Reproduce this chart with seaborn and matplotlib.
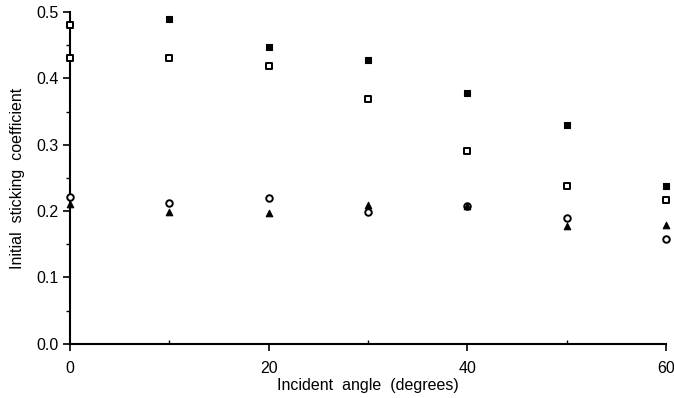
import numpy as np
import pandas as pd
import matplotlib
matplotlib.use("Agg")
import matplotlib.pyplot as plt
import seaborn as sns
from matplotlib.ticker import MultipleLocator, FormatStrFormatter

angles = [0, 10, 20, 30, 40, 50, 60]
filled_sq_x = [10, 20, 30, 40, 50, 60]
filled_sq = [0.489, 0.447, 0.428, 0.378, 0.330, 0.238]
open_sq_x = [0, 0, 10, 20, 30, 40, 50, 60]
open_sq = [0.480, 0.431, 0.431, 0.419, 0.369, 0.290, 0.238, 0.217]
circle = [0.221, 0.212, 0.220, 0.199, 0.208, 0.190, 0.158]
triangle = [0.211, 0.199, 0.197, 0.209, 0.208, 0.178, 0.179]

sns.set_style("ticks")
plt.rcParams['font.family'] = ['Liberation Sans', 'DejaVu Sans']
plt.rcParams['text.color'] = 'black'
plt.rcParams['axes.labelcolor'] = 'black'
plt.rcParams['xtick.color'] = 'black'
plt.rcParams['ytick.color'] = 'black'

fig = plt.figure(figsize=(6.74, 3.98), dpi=100)
ax = fig.add_axes([0.104, 0.136, 0.884, 0.834])

ms = 22
sns.scatterplot(x=filled_sq_x, y=filled_sq, ax=ax, marker='s', color='black', s=ms,
                edgecolor='black', linewidth=0.8, clip_on=False, zorder=3)
sns.scatterplot(x=open_sq_x, y=open_sq, ax=ax, marker='s', facecolor='white', s=ms,
                edgecolor='black', linewidth=1.4, clip_on=False, zorder=3)
sns.scatterplot(x=angles, y=circle, ax=ax, marker='o', facecolor='white', s=ms,
                edgecolor='black', linewidth=1.4, clip_on=False, zorder=3)
sns.scatterplot(x=angles, y=triangle, ax=ax, marker='^', color='black', s=ms,
                edgecolor='black', linewidth=0.8, clip_on=False, zorder=3)

ax.set_xlim(0, 60)
ax.set_ylim(0, 0.5)
ax.xaxis.set_major_locator(MultipleLocator(20))
ax.xaxis.set_minor_locator(MultipleLocator(10))
ax.yaxis.set_major_locator(MultipleLocator(0.1))
ax.yaxis.set_minor_locator(MultipleLocator(0.05))
ax.yaxis.set_major_formatter(FormatStrFormatter('%.1f'))
ax.tick_params(axis='both', which='major', labelsize=11.5, length=5, width=1.2, color='black')
ax.tick_params(axis='x', which='major', pad=7)
ax.tick_params(axis='x', which='minor', direction='in', length=3, width=1)
ax.tick_params(axis='y', which='minor', direction='out', length=3, width=1)
sns.despine(ax=ax)
for sp in ['left', 'bottom']:
    ax.spines[sp].set_linewidth(1.5)
    ax.spines[sp].set_color('black')

ax.set_xlabel("Incident  angle  (degrees)", fontsize=11.5, labelpad=2)
ax.set_ylabel("Initial  sticking  coefficient", fontsize=11.5, labelpad=8)

fig.savefig("out.png", dpi=100)
